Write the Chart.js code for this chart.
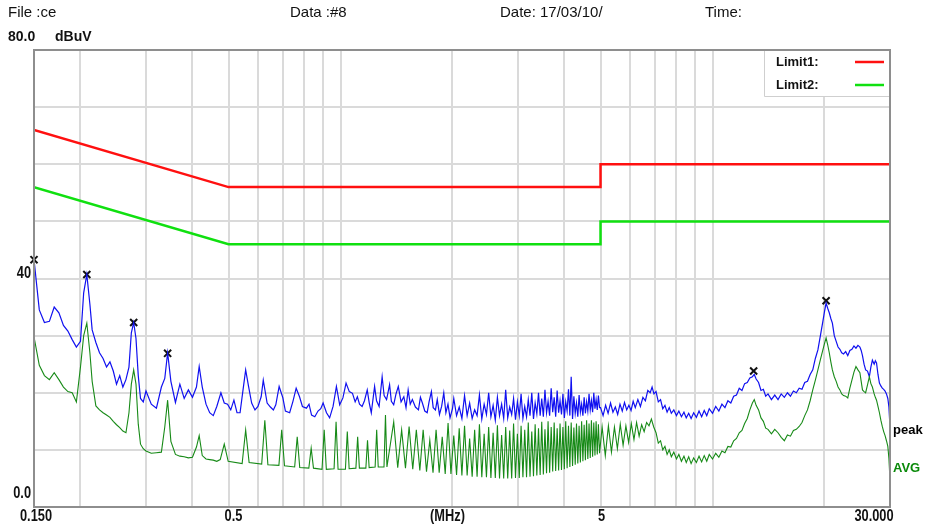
<!DOCTYPE html>
<html>
<head>
<meta charset="utf-8">
<script src="https://cdn.jsdelivr.net/npm/chart.js@4/dist/chart.umd.min.js"></script>
<style>
  html, body { margin: 0; padding: 0; background: #fff; }
  #wrap { width: 925px; height: 529px; }
</style>
</head>
<body>
<div id="wrap"><canvas id="emcChart" width="925" height="529"></canvas></div>
<script>
// peak trace: frequency (MHz) and level (dBuV)
const peakFreqs = [
  0.150,0.155,0.160,0.165,0.170,0.175,0.180,0.185,0.190,0.195,
  0.200,0.204,0.208,0.212,0.215,0.220,0.225,0.230,0.235,0.240,
  0.245,0.250,0.255,0.260,0.265,0.270,0.274,0.278,0.282,0.286,
  0.290,0.295,0.300,0.310,0.320,0.330,0.337,0.343,0.350,0.360,
  0.370,0.380,0.390,0.400,0.410,0.417,0.425,0.435,0.445,0.455,
  0.465,
  0.477,0.487,0.497,0.507,0.517,0.527,0.537,0.547,0.556,0.566,
  0.577,0.589,0.600,0.612,0.620,0.635,0.648,0.660,0.670,0.684,
  0.700,0.711,0.730,0.745,0.760,0.776,0.790,0.810,0.823,0.836,
  0.853,0.870,0.885,0.898,0.917,0.935,0.955,0.975,0.995,1.015,
  1.035,1.056,1.077,1.095,1.110,1.125,1.143,1.160,1.180,1.195,
  1.210,1.235,1.250,1.270,1.294,1.310,1.330,1.355,1.370,1.390,
  1.410,1.430,1.455,1.480,1.500,1.520,1.540,1.560,1.590,1.620,
  1.640,1.660,1.685,1.710,1.730,1.755,1.775,1.800,1.820,1.845,
  1.870,1.895,1.920,1.945,1.970,2.000,
  2.016,2.051, 2.085,2.120, 2.155,2.190, 2.224,2.259, 2.294,2.329, 2.363,2.398, 2.433,2.468, 2.502,2.537, 2.572,2.607, 2.641,2.676,
  2.711,2.746, 2.780,2.815, 2.850,2.885, 2.919,2.954, 2.989,3.024, 3.058,3.093, 3.128,3.163, 3.197,3.232, 3.267,3.302, 3.336,3.371,
  3.406,3.441, 3.475,3.510, 3.545,3.580, 3.614,3.649, 3.684,3.719, 3.753,3.788, 3.823,3.858, 3.892,3.927, 3.962,3.997, 4.031,4.066,
  4.101,4.136, 4.170,4.205, 4.240,4.275, 4.309,4.344, 4.379,4.414, 4.448,4.483, 4.518,4.553, 4.587,4.622, 4.657,4.692, 4.726,4.761,
  4.796,4.831, 4.865,4.900, 4.935,4.970,
  5.00,5.08,5.16,5.24,5.32,5.40,5.48,5.56,5.64,5.72,
  5.80,5.88,5.96,6.04,6.12,6.20,6.30,6.40,6.50,6.60,
  6.70,6.80,6.88,6.96,7.05,7.15,7.25,7.35,7.45,7.55,
  7.65,7.75,7.87,8.00,8.12,8.25,8.38,8.50,8.63,8.76,
  8.90,9.05,9.20,9.35,9.50,9.65,9.80,10.0,10.2,10.4,
  10.6,10.8,11.0,11.2,11.4,11.6,11.8,12.0,12.2,12.4,
  12.6,12.8,12.95,13.1,13.3,13.5,13.7,13.9,14.1,14.4,
  14.7,15.0,15.3,15.6,15.9,16.2,16.5,16.8,17.1,17.4,
  17.7,18.0,18.3,18.6,18.9,19.2,19.5,19.8,20.0,20.2,
  20.4,20.6,20.8,21.0,21.25,21.5,21.75,22.0,22.25,22.5,
  22.8,23.1,23.4,23.7,24.0,24.3,24.6,24.9,25.1,25.3,
  25.55,25.8,26.1,26.4,26.65,26.9,27.2,27.4,27.6,27.85,
  28.1,28.35,28.6,28.85,29.1,29.35,29.6,29.8,30.0
];
const peakVals = [
  43.3,34.5,32.3,32.5,35.0,34.0,31.8,30.8,29.3,28.0,
  29.0,37.5,40.7,35.5,31.0,28.8,27.0,26.0,24.5,25.4,
  23.8,21.5,23.0,21.0,22.3,24.5,30.5,32.3,29.5,23.0,
  19.0,18.4,20.3,18.0,17.3,21.0,22.5,27.0,22.0,18.3,
  21.5,19.0,20.5,19.2,21.0,24.6,21.0,18.0,16.5,16.0,
  17.6,
  20.0,18.2,18.0,17.0,18.7,16.5,16.5,20.5,24.0,21.1,
  18.2,17.0,17.6,19.3,22.2,18.2,17.5,17.0,17.9,21.1,
  19.1,16.8,16.5,18.5,20.8,19.3,17.6,17.3,18.0,16.1,
  15.8,16.8,17.2,18.2,16.5,15.6,17.6,21.1,17.9,19.1,
  21.7,20.2,19.9,18.4,19.3,18.0,17.6,18.6,20.5,18.2,
  16.5,21.1,18.6,17.6,22.8,19.5,18.8,21.4,18.5,17.9,
  19.8,21.1,18.4,19.3,17.4,20.5,18.0,18.8,17.5,17.0,
  19.2,18.2,16.8,16.5,18.4,20.2,17.4,17.0,18.8,16.2,
  17.6,20.0,16.5,18.0,15.6,17.2,
  19.0,16.0, 17.5,15.5, 19.5,16.0, 18.2,15.5, 17.0,16.0, 19.6,15.4, 18.0,16.2, 20.0,15.8, 17.8,15.2, 19.2,16.0,
  18.0,15.5, 20.5,15.6, 17.5,16.2, 19.0,15.3, 18.4,16.0, 19.8,15.5, 17.6,15.8, 18.8,16.0, 20.0,15.4, 18.2,16.3,
  20.0,16.0, 19.0,15.8, 20.5,16.5, 18.5,16.0, 20.8,16.6, 19.2,15.8, 20.4,16.5, 18.6,16.2, 19.8,15.6, 18.4,16.8,
  20.6,16.0, 22.8,15.4, 19.4,16.4, 18.2,15.8, 19.6,16.6, 18.0,16.0, 19.2,16.4, 18.4,16.8, 19.8,17.0, 18.6,16.6,
  20.0,17.2, 18.8,17.0, 19.5,17.4,
  17.4,16.0,17.8,16.4,18.2,16.6,17.5,16.2,18.0,16.8,
  18.3,17.0,17.8,16.9,18.5,17.4,18.8,17.6,19.2,18.6,
  20.4,20.0,21.0,19.8,20.2,18.4,18.8,17.2,17.8,16.6,
  17.4,16.4,17.0,16.0,16.8,15.8,16.6,15.6,16.4,15.5,
  16.5,15.7,16.8,15.8,16.9,16.0,17.2,16.4,17.6,16.8,
  18.0,17.4,18.6,18.2,19.4,19.6,20.8,20.4,21.6,21.8,
  22.6,22.8,23.2,22.4,21.8,20.4,20.6,19.4,19.8,18.8,
  19.6,18.8,19.8,19.2,20.0,19.4,20.3,20.0,20.8,20.6,
  21.8,22.0,23.2,24.0,26.0,27.5,30.0,32.5,34.2,35.7,
  34.8,34.0,33.0,32.2,30.0,29.0,28.0,27.6,27.0,26.8,
  27.2,26.5,27.4,27.6,28.2,27.8,28.3,28.0,27.4,26.5,
  25.0,24.0,23.8,22.8,24.5,25.7,25.0,25.6,25.2,23.2,
  21.7,21.2,20.8,20.6,20.3,19.8,19.0,17.5,14.0
];

// AVG trace: frequency (MHz) and level (dBuV)
const avgFreqs = [
  0.150,0.155,0.160,0.165,0.170,0.175,0.180,0.185,0.190,0.195,
  0.200,0.204,0.208,0.212,0.215,0.220,0.225,0.230,0.235,0.240,
  0.245,0.250,0.255,0.260,0.265,0.270,0.274,0.278,0.282,0.286,
  0.290,0.295,0.300,0.310,0.320,0.330,0.337,0.343,0.350,0.360,
  0.370,0.380,0.390,0.400,0.410,0.417,0.425,0.435,0.445,0.455,
  0.465,
  0.475,0.487,0.499, 0.544,0.556,0.568, 0.614,0.626,0.638, 0.683,0.695,0.707,
  0.753,0.765,0.777, 0.822,0.834,0.846, 0.892,0.904,0.916, 0.961,0.973,0.985,
  1.031,1.043,1.055, 1.100,1.112,1.124, 1.170,1.182,1.194, 1.239,1.251,1.263,
  1.309,1.321,1.333,
  1.390,1.425, 1.460,1.495, 1.529,1.564, 1.599,1.634, 1.668,1.703, 1.738,1.773, 1.807,1.842, 1.877,1.912, 1.946,1.981, 2.016,2.051,
  2.085,2.120, 2.155,2.190, 2.224,2.259, 2.294,2.329, 2.363,2.398, 2.433,2.468, 2.502,2.537, 2.572,2.607, 2.641,2.676, 2.711,2.746,
  2.780,2.815, 2.850,2.885, 2.919,2.954, 2.989,3.024, 3.058,3.093, 3.128,3.163, 3.197,3.232, 3.267,3.302, 3.336,3.371, 3.406,3.441,
  3.475,3.510, 3.545,3.580, 3.614,3.649, 3.684,3.719, 3.753,3.788, 3.823,3.858, 3.892,3.927, 3.962,3.997, 4.031,4.066, 4.101,4.136,
  4.170,4.205, 4.240,4.275, 4.309,4.344, 4.379,4.414, 4.448,4.483, 4.518,4.553, 4.587,4.622, 4.657,4.692, 4.726,4.761, 4.796,4.831,
  4.865,4.900, 4.935,4.970,
  5.05,5.15,5.25,5.35,5.45,5.55,5.65,5.75,5.85,5.95,
  6.05,6.15,6.25,6.35,6.45,6.55,6.65,6.75,6.85,6.95,
  7.05,7.15,7.25,7.35,7.45,7.55,7.65,7.75,7.87,8.00,
  8.12,8.25,8.38,8.50,8.63,8.76,8.90,9.05,9.20,9.35,
  9.50,9.65,9.80,10.0,10.2,10.4,10.6,10.8,11.0,11.2,
  11.4,11.6,11.8,12.0,12.2,12.4,12.6,12.8,12.95,13.1,
  13.3,13.5,13.7,13.9,14.1,14.4,14.7,15.0,15.3,15.6,
  15.9,16.2,16.5,16.8,17.1,17.4,17.7,18.0,18.3,18.6,
  18.9,19.2,19.5,19.8,20.0,20.2,20.4,20.6,20.8,21.0,
  21.25,21.5,21.75,22.0,22.25,22.5,22.8,23.1,23.4,23.7,
  24.0,24.3,24.6,24.9,25.1,25.3,25.55,25.8,26.1,26.4,
  26.65,26.9,27.2,27.4,27.6,27.85,28.1,28.35,28.6,28.85,
  29.1,29.35,29.6,29.8,30.0
];
const avgVals = [
  29.8,24.8,23.0,22.3,23.5,22.3,21.0,20.2,20.0,18.4,
  24.5,30.0,32.2,27.0,22.0,17.7,17.0,16.5,16.1,15.7,
  15.0,14.4,13.9,13.3,13.0,16.5,21.5,24.0,21.5,14.5,
  11.0,10.2,9.8,9.4,9.5,9.6,14.0,18.7,11.5,9.2,
  8.9,8.8,8.6,8.7,10.5,12.5,9.0,8.4,8.3,8.2,
  8.0,
  8.3,11.0,8.0, 7.6,13.5,7.8, 7.5,15.2,7.4, 7.3,13.5,7.2,
  7.0,12.3,6.9, 6.8,10.3,6.8, 6.6,13.5,6.6, 6.7,14.9,6.6,
  6.6,13.2,6.7, 6.8,12.3,6.8, 6.8,11.7,6.9, 7.0,13.5,7.0,
  7.0,16.1,7.0,
  14.9,6.9, 13.5,6.8, 14.1,6.6, 13.5,6.4, 13.5,6.2, 11.7,6.0, 13.5,6.0, 12.3,5.8, 14.7,5.8, 12.5,5.6,
  13.8,5.5, 14.2,5.5, 12.0,5.3, 13.5,5.3, 14.5,5.2, 12.8,5.2, 14.0,5.1, 13.0,5.1, 14.3,5.0, 12.6,5.0,
  14.0,5.0, 13.4,5.0, 14.6,5.1, 12.8,5.1, 14.2,5.2, 13.5,5.2, 14.8,5.3, 13.2,5.4, 14.5,5.5, 13.8,5.6,
  14.9,5.7, 13.6,5.9, 15.0,6.0, 14.0,6.2, 14.8,6.3, 13.8,6.4, 14.6,6.5, 14.0,6.6, 15.0,6.8, 14.2,7.0,
  14.8,7.2, 13.9,7.4, 14.6,7.6, 14.2,7.8, 15.0,8.0, 14.4,8.2, 15.2,8.4, 14.6,8.6, 15.2,8.8, 14.8,9.0,
  15.0,9.2, 14.5,9.4,
  14.0,9.0,14.2,9.6,14.0,10.2,14.5,10.8,14.2,11.3,
  14.6,11.8,14.8,12.4,14.4,13.2,14.8,14.2,15.4,14.0,
  13.0,11.2,11.6,10.0,10.6,9.2,10.0,8.8,9.6,8.4,
  9.2,8.0,8.9,7.8,8.8,7.6,8.6,7.8,8.9,7.9,
  9.0,8.0,9.2,8.4,9.4,8.7,9.8,9.5,10.6,10.5,
  11.6,12.0,13.0,13.4,14.6,15.5,17.0,18.2,18.8,17.8,
  17.0,15.6,15.0,13.8,13.6,12.8,13.6,13.0,12.2,11.6,
  12.6,12.4,13.4,13.6,14.1,14.8,16.0,17.0,18.6,20.5,
  22.2,24.0,25.8,27.5,28.6,29.6,28.4,27.0,25.4,24.0,
  22.8,22.0,21.0,20.5,19.8,19.5,19.4,19.1,20.8,22.2,
  23.6,24.6,24.0,23.5,22.0,20.5,20.2,20.0,21.4,22.8,
  21.6,21.0,19.8,19.2,18.7,17.6,16.5,15.2,14.1,13.2,
  12.5,11.6,10.6,8.5,4.7
];

// limit lines
const limit1Freqs = [0.15, 0.5, 5, 5, 30];
const limit1Vals = [66, 56, 56, 60, 60];
const limit2Freqs = [0.15, 0.5, 5, 5, 30];
const limit2Vals = [56, 46, 46, 50, 50];

// marked peaks
const markerFreqs = [0.150, 0.208, 0.278, 0.343, 12.9, 20.2];
const markerVals = [43.3, 40.7, 32.3, 26.9, 23.8, 36.1];

// grid and labels
const gridFreqs = [0.15,0.2,0.3,0.4,0.5,0.6,0.7,0.8,0.9,1,2,3,4,5,6,7,8,9,10,20,30];
const xLabelVals = [0.15, 0.5, 5, 30];
const xLabelText = ['0.150', '0.5', '5', '30.000'];
const yLabelVals = [40, 0];
const yLabelText = ['40', '0.0'];
const headerText = ['File :ce', 'Data :#8', 'Date: 17/03/10/', 'Time:'];
const legendText = ['Limit1:', 'Limit2:'];

const toPoints = (xs, ys) => xs.map((f, i) => ({ x: f, y: ys[i] }));

const SANS = '"Liberation Sans", Arial, sans-serif';

// condensed bold text like the analyser's axis font
function narrowText(ctx, text, x, y, align) {
  ctx.save();
  ctx.translate(x, y);
  ctx.scale(0.8, 1);
  ctx.textAlign = align;
  ctx.fillText(text, 0, 0);
  ctx.restore();
}

const overlay = {
  id: 'overlay',
  afterDraw(chart) {
    const { ctx, chartArea: ca, scales: { x, y } } = chart;
    ctx.save();

    // plot frame
    ctx.strokeStyle = '#8e8e8e';
    ctx.lineWidth = 2;
    ctx.strokeRect(ca.left, ca.top, ca.right - ca.left, ca.bottom - ca.top);

    // header line
    ctx.fillStyle = '#111';
    ctx.textBaseline = 'middle';
    ctx.textAlign = 'left';
    ctx.font = '15px ' + SANS;
    const hx = [8, 290, 500, 705];
    headerText.forEach((t, i) => ctx.fillText(t, hx[i], 13));

    // unit line above the plot
    ctx.font = 'bold 14px ' + SANS;
    ctx.fillText('80.0', 8, 37);
    ctx.fillText('dBuV', 55, 37);

    // y labels
    ctx.font = 'bold 16px ' + SANS;
    narrowText(ctx, yLabelText[0], 31, y.getPixelForValue(yLabelVals[0]) - 5, 'right');
    narrowText(ctx, yLabelText[1], 31, y.getPixelForValue(yLabelVals[1]) - 13, 'right');

    // x labels
    const xShift = [2, 5, 1, -16];
    xLabelVals.forEach((v, i) => narrowText(ctx, xLabelText[i], x.getPixelForValue(v) + xShift[i], 517, 'center'));
    narrowText(ctx, '(MHz)', x.getPixelForValue(2) - 5, 517, 'center');

    // trace names on the right
    ctx.textAlign = 'left';
    ctx.font = 'bold 13px ' + SANS;
    ctx.fillStyle = '#000';
    ctx.fillText('peak', ca.right + 3, 430);
    ctx.fillStyle = '#0a8a0a';
    ctx.fillText('AVG', ca.right + 3, 468);

    // legend box
    const lw = 126, lh = 46;
    const lx = ca.right - lw, ly = ca.top;
    ctx.fillStyle = '#fff';
    ctx.fillRect(lx, ly + 1, lw - 1, lh);
    ctx.strokeStyle = '#cfcfcf';
    ctx.lineWidth = 1;
    ctx.beginPath();
    ctx.moveTo(lx + 0.5, ly + 1);
    ctx.lineTo(lx + 0.5, ly + lh + 0.5);
    ctx.lineTo(ca.right - 1, ly + lh + 0.5);
    ctx.stroke();
    ctx.font = 'bold 13px ' + SANS;
    ctx.fillStyle = '#111';
    const legendColors = ['#ff1010', '#10e010'];
    legendText.forEach((t, i) => {
      const yy = ly + 12 + i * 23;
      ctx.fillText(t, lx + 12, yy);
      ctx.strokeStyle = legendColors[i];
      ctx.lineWidth = 2.5;
      ctx.beginPath();
      ctx.moveTo(lx + 91, yy);
      ctx.lineTo(lx + 120, yy);
      ctx.stroke();
    });
    ctx.restore();
  }
};

const ctx = document.getElementById('emcChart').getContext('2d');

const emcChart = new Chart(ctx, {
  type: 'line',
  data: {
    datasets: [{
      label: 'AVG',
      data: toPoints(avgFreqs, avgVals),
      borderColor: '#178a17',
      borderWidth: 1.1,
      pointRadius: 0,
      tension: 0
    }, {
      label: 'peak',
      data: toPoints(peakFreqs, peakVals),
      borderColor: '#1010f0',
      borderWidth: 1.2,
      pointRadius: 0,
      tension: 0
    }, {
      label: 'Limit1',
      data: toPoints(limit1Freqs, limit1Vals),
      borderColor: '#ff1010',
      borderWidth: 2.5,
      pointRadius: 0,
      tension: 0
    }, {
      label: 'Limit2',
      data: toPoints(limit2Freqs, limit2Vals),
      borderColor: '#10e010',
      borderWidth: 2.5,
      pointRadius: 0,
      tension: 0
    }, {
      label: 'markers',
      data: toPoints(markerFreqs, markerVals),
      showLine: false,
      clip: false,
      pointStyle: 'crossRot',
      pointRadius: 5,
      pointBorderWidth: 2,
      borderColor: '#111',
      backgroundColor: '#111'
    }]
  },
  options: {
    responsive: false,
    animation: false,
    devicePixelRatio: 1,
    layout: { padding: { left: 34, right: 35, top: 50, bottom: 22 } },
    scales: {
      x: {
        type: 'logarithmic',
        min: 0.15,
        max: 30,
        afterBuildTicks: (scale) => {
          scale.ticks = gridFreqs.map(v => ({ value: v }));
        },
        ticks: { display: false },
        grid: { color: '#dadada', lineWidth: 2, drawTicks: false },
        border: { display: false }
      },
      y: {
        min: 0,
        max: 80,
        ticks: { display: false, stepSize: 10 },
        grid: { color: '#dadada', lineWidth: 2, drawTicks: false },
        border: { display: false }
      }
    },
    plugins: {
      legend: { display: false },
      tooltip: { enabled: false }
    }
  },
  plugins: [overlay]
});
</script>
</body>
</html>
